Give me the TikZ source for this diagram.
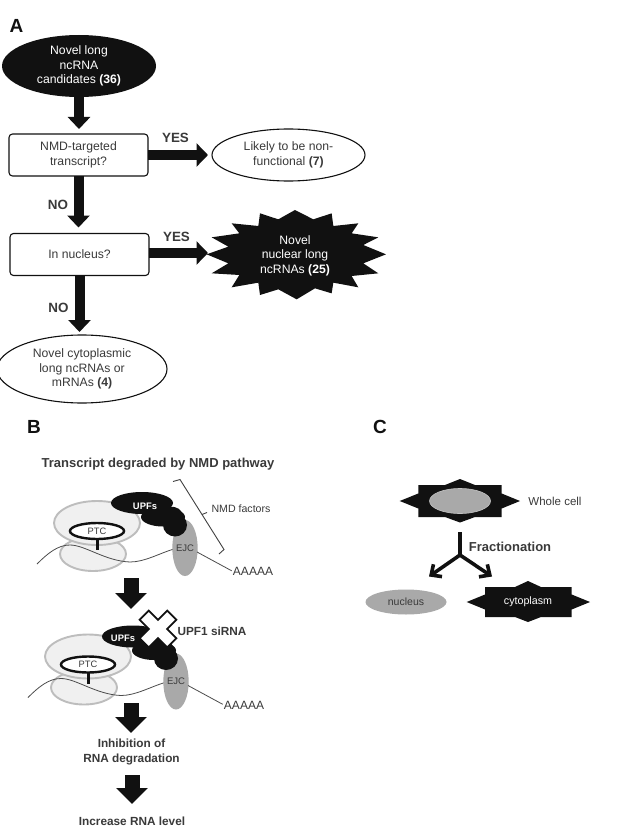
\documentclass[tikz,border=0pt]{standalone}
\usepackage{fontspec}
\setmainfont{Liberation Sans}
\usetikzlibrary{arrows.meta,shapes.geometric,calc}
\definecolor{ink}{HTML}{111111}
\definecolor{txt}{HTML}{3A3A3A}
\definecolor{nuc}{HTML}{A9A9A9}
\definecolor{ribo}{HTML}{F0F0F0}
\definecolor{riboedge}{HTML}{BDBDBD}
\newcommand{\fsz}[2]{\fontsize{#1}{#2}\selectfont}
\tikzset{
  every node/.style={inner sep=0pt,outer sep=0pt,text=txt,align=center},
  blackoval/.style={ellipse,fill=ink,text=white},
  whiteoval/.style={ellipse,draw=ink,line width=1.1pt,fill=white},
  decision/.style={rectangle,rounded corners=3.5pt,draw=ink,line width=1.1pt,fill=white,
    minimum width=139pt,minimum height=42pt,font=\fsz{12.2}{14.5}},
  ovaltext/.style={font=\fsz{12.2}{14.5}},
  panellabel/.style={font=\bfseries\fsz{19}{20},text=ink},
  answer/.style={font=\bfseries\fsz{13.4}{15},text=txt},
  heading/.style={font=\bfseries\fsz{11.8}{14},text=txt},
  blockv/.style={draw=ink,line width=10pt,-{Triangle[length=12pt,width=22pt]}},
  blockh/.style={draw=ink,line width=10.5pt,-{Triangle[length=11.5pt,width=23pt]}},
  blockb/.style={draw=ink,line width=15pt,-{Triangle[length=16pt,width=31pt]}},
  splitter/.style={draw=ink,line width=3.6pt,-{Straight Barb[length=8pt,width=15pt]}},
  cellpoly/.style={fill=ink},
  upflabel/.style={text=white,font=\bfseries\fsz{9.4}{10}},
  complex/.pic={
    % ribosome subunits with the transcript threaded between them
    \node[ellipse,draw=riboedge,line width=1.9pt,fill=ribo,minimum width=66pt,minimum height=34pt] (-small) at (93,554) {};
    \node[ellipse,draw=riboedge,line width=1.9pt,fill=ribo,minimum width=86pt,minimum height=44pt] (-large) at (97,523) {};
    \node[ellipse,draw=ink,line width=2.4pt,fill=white,minimum width=54pt,minimum height=16pt,font=\fsz{9.3}{10}] (-ptc) at (97,531) {PTC};
    \coordinate (-rnastart) at (37,564);
    \coordinate (-rnaend) at (174,549);
    \draw[draw=ink!75,line width=0.8pt] (-rnastart) .. controls (48,553) and (58,545) .. (70,545)
      .. controls (85,545) and (105,561) .. (130,562) .. controls (145,562) and (160,553) .. (-rnaend);
    \coordinate (-stem) at (96,550);
    \draw[draw=ink,line width=3pt] (-ptc.south) -- (-ptc.south |- -stem);
    % exon junction complex and the poly-A tail
    \node[ellipse,fill=nuc,minimum width=24pt,minimum height=56pt,font=\fsz{9.5}{10}] (-ejc) at (185,548) {EJC};
    \node[font=\fsz{12}{13}] (-polya) at (253,571.5) {AAAAA};
    \draw[draw=ink!75,line width=0.8pt,shorten >=1.5pt] (197,552) -- (-polya.west);
    % UPF factors
    \node[ellipse,fill=ink,minimum width=44pt,minimum height=19pt] (-mid) at (163,517) {};
    \node[ellipse,fill=ink,minimum width=24pt,minimum height=23pt] (-end) at (175,525) {};
    \node[ellipse,fill=ink,minimum width=24pt,minimum height=15pt] (-neck) at (170,514) {};
    \node[ellipse,fill=ink,minimum width=62pt,minimum height=22pt] (-upf) at (142,503) {};
  }
}
\begin{document}
\begin{tikzpicture}[x=1pt,y=-1pt]
\useasboundingbox (0,0) rectangle (621,837);
\fill[white] (0,0) rectangle (621,837);

% Panel A: classification flow chart
\node[panellabel] (labA) at (16.5,26) {A};
\node[blackoval,minimum width=154pt,minimum height=62pt,ovaltext,text=white] (cand) at (79,66)
  {Novel long\\ncRNA\\candidates \textbf{(36)}};
\node[decision] (q1) at (78.5,155) {NMD-targeted\\transcript?};
\node[decision] (q2) at (79.5,254.5) {In nucleus?};
\node[whiteoval,minimum width=153pt,minimum height=52pt,ovaltext] (nonfun) at (288.5,155)
  {Likely to be non-\\functional \textbf{(7)}};
\node[whiteoval,minimum width=170pt,minimum height=68pt,ovaltext] (cyto) at (82,369)
  {Novel cytoplasmic\\long ncRNAs or\\mRNAs \textbf{(4)}};

\begin{scope}[shift={(200,200)},x=0.3333pt,y=-0.3333pt]
  \fill[ink] (285,30)--(340,58)--(395,40)--(400,78)--(475,70)--(455,100)--(535,112)--(490,135)
    --(558,163)--(490,190)--(535,220)--(455,228)--(475,262)--(400,248)--(395,280)--(345,265)
    --(290,298)--(235,268)--(180,285)--(175,248)--(95,262)--(118,225)--(35,220)--(85,190)
    --(20,163)--(85,140)--(35,112)--(118,100)--(95,70)--(175,78)--(180,40)--(235,58)--cycle;
\end{scope}
\node[ovaltext,text=white] (burst) at (295,255.5) {Novel\\nuclear long\\ncRNAs \textbf{(25)}};
\coordinate (burstTip) at (208,253);

\draw[blockv,shorten >=5pt] (cand.south) -- (cand.south |- q1.north);
\draw[blockv,shorten >=6pt] (q1.south) -- (q1.south |- q2.north);
\draw[blockv,shorten >=3pt] (q2.south) -- (q2.south |- cyto.north);
\draw[blockh,shorten >=4pt] (q1.east) -- (nonfun.west);
\draw[blockh] (q2.east |- burstTip) -- (burstTip);

\node[answer] (yes1) at (175.5,137.5) {YES};
\node[answer] (yes2) at (176.5,236.5) {YES};
\node[answer] (no1) at (58,204.5) {NO};
\node[answer] (no2) at (58.5,307.5) {NO};

% Panel B: NMD pathway and its inhibition
\node[panellabel] (labB) at (34,427) {B};
\node[font=\bfseries\fsz{13}{14}] (title) at (158,464.5) {Transcript degraded by NMD pathway};
\pic (top) at (0,0) {complex};
\node[upflabel] (upfA) at (145,506) {UPFs};
\node[font=\fsz{10.6}{12}] (factors) at (241,509) {NMD factors};
\coordinate (brA) at (173,481.5);
\coordinate (brB) at (180,479.5);
\coordinate (brC) at (224,549.5);
\coordinate (brD) at (219,554);
\coordinate (brMid) at (202,514.5);
\coordinate (brTick) at (207,512.5);
\draw[draw=ink!80,line width=0.9pt] (brA) -- (brB) -- (brC) -- (brD);
\draw[draw=ink!80,line width=0.9pt] (brMid) -- (brTick);

\coordinate (b1s) at (131,578);
\coordinate (b1e) at (131,609);
\draw[blockb] (b1s) -- (b1e);

\pic (low) at (-9,133.5) {complex};
\node[upflabel] (upfB) at (123,638) {UPFs};
% knock-down cross over the UPF factors
\coordinate (xc) at (158,629);
\filldraw[draw=ink,line width=1.8pt,fill=white,rotate around={45:(xc)}]
  ($(xc)+(-6.5,-19.5)$)--($(xc)+(6.5,-19.5)$)--($(xc)+(6.5,-6.5)$)--($(xc)+(19.5,-6.5)$)
  --($(xc)+(19.5,6.5)$)--($(xc)+(6.5,6.5)$)--($(xc)+(6.5,19.5)$)--($(xc)+(-6.5,19.5)$)
  --($(xc)+(-6.5,6.5)$)--($(xc)+(-19.5,6.5)$)--($(xc)+(-19.5,-6.5)$)--($(xc)+(-6.5,-6.5)$)--cycle;
\node[heading] (sirna) at (212,631) {UPF1 siRNA};

\node[heading,font=\bfseries\fsz{11.8}{14.2}] (inhib) at (131.5,752) {Inhibition of\\RNA degradation};
\node[heading] (incr) at (132,821) {Increase RNA level};
\coordinate (b2s) at (131,703);
\coordinate (b2e) at (131,733);
\draw[blockb] (b2s) -- (b2e);
\coordinate (b3s) at (132,775);
\coordinate (b3e) at (132,804);
\draw[blockb] (b3s) -- (b3e);

% Panel C: cell fractionation
\node[panellabel] (labC) at (380,427) {C};
\fill[cellpoly] (399.7,501)--(418.3,493.5)--(418.3,485)--(445,485)--(460,479)--(475,485)--(501.7,485)
  --(501.7,493.5)--(520,501)--(501.7,508.5)--(501.7,517)--(475,517)--(460,522.5)--(445,517)
  --(418.3,517)--(418.3,508.5)--cycle;
\node[ellipse,fill=nuc,draw=nuc!70,line width=0.6pt,minimum width=61pt,minimum height=25pt] (whole) at (460,501) {};
\node[font=\fsz{11.5}{13}] (wc) at (555,501) {Whole cell};
\coordinate (yTop) at (460,532);
\coordinate (yJoin) at (460,555);
\coordinate (yL) at (429,576.5);
\coordinate (yR) at (492,576.5);
\draw[draw=ink,line width=4.2pt] (yTop) -- (yJoin);
\draw[splitter] (yJoin) -- (yL);
\draw[splitter] (yJoin) -- (yR);
\node[font=\bfseries\fsz{13}{14}] (frac) at (510,547) {Fractionation};
\node[ellipse,fill=nuc,minimum width=81pt,minimum height=25pt,font=\fsz{10.5}{12}] (nucl) at (406,602) {nucleus};
\fill[cellpoly] (466.7,602)--(485,594.5)--(485,587)--(515,587)--(528,581)--(541,587)--(571.7,587)
  --(571.7,594.5)--(590,602)--(571.7,609.5)--(571.7,617)--(541,617)--(528,622)--(515,617)
  --(485,617)--(485,609.5)--cycle;
\node[font=\fsz{10.7}{12},text=white] (cp) at (528,602) {cytoplasm};
\end{tikzpicture}
\end{document}
